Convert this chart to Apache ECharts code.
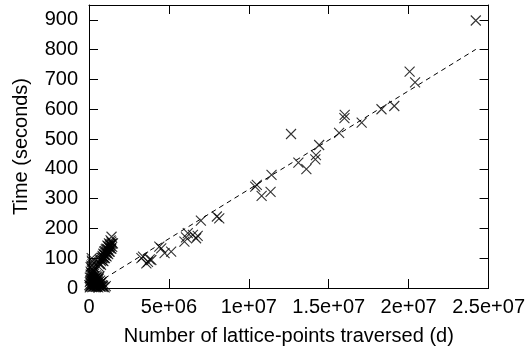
<!DOCTYPE html>
<html lang="en">
<head>
    <meta charset="UTF-8">
    <title>Time vs lattice points</title>
    <script src="https://cdn.jsdelivr.net/npm/echarts@6/dist/echarts.min.js"></script>
</head>
<body style="margin:0">
<div id="chart" style="width:528px; height:358px"></div>
<script type="text/javascript">
    // lattice points traversed (d) and time (seconds)
    var pointsX = [
        // dense cluster near origin
        0.05e6, 0.1e6, 0.15e6, 0.2e6, 0.25e6, 0.3e6, 0.35e6, 0.4e6, 0.45e6, 0.5e6,
        0.55e6, 0.6e6, 0.65e6, 0.7e6, 0.75e6, 0.8e6, 0.85e6, 0.9e6, 0.6e6, 0.7e6,
        0.2e6, 0.3e6, 0.15e6, 0.25e6, 0.1e6, 0.2e6, 0.35e6, 0.05e6, 0.12e6, 0.4e6,
        0.5e6, 0.6e6, 0.3e6, 0.18e6, 0.22e6, 0.17e6, 0.08e6, 0.02e6, 0.28e6, 0.45e6,
        0.7e6, 0.8e6, 0.55e6, 0.65e6, 0.1e6, 0.2e6, 0.3e6, 0.4e6, 0.5e6, 0.15e6,
        0.25e6, 0.35e6, 0.45e6, 0.05e6, 0.12e6, 0.22e6, 0.32e6, 0.42e6, 0.52e6, 0.62e6,
        0.2e6, 0.15e6, 0.25e6, 0.1e6, 0.3e6, 0.18e6, 0.38e6, 0.48e6, 0.58e6, 0.68e6,
        0.78e6, 0.88e6, 0.98e6, 1.05e6, 0.08e6, 0.28e6, 0.33e6, 0.43e6, 0.53e6, 0.63e6,
        // group around 1e6
        0.6e6, 0.65e6, 0.7e6, 0.75e6, 0.8e6, 0.85e6, 0.9e6, 0.95e6, 1.0e6, 1.05e6,
        1.1e6, 1.15e6, 1.2e6, 1.25e6, 1.3e6, 1.35e6, 1.4e6, 1.45e6, 1.5e6, 1.41e6,
        0.7e6, 0.8e6, 0.9e6, 1.0e6, 1.1e6, 1.2e6, 1.3e6, 1.4e6, 0.75e6, 0.85e6,
        0.95e6, 1.05e6, 1.15e6, 1.25e6, 1.35e6, 1.45e6, 0.9e6, 1.0e6, 1.1e6, 1.2e6,
        1.3e6, 1.4e6, 0.85e6, 0.95e6, 1.05e6, 1.15e6, 1.25e6, 1.35e6,
        // main trend
        3.28e6, 3.38e6, 3.59e6, 3.69e6, 3.8e6, 3.9e6, 4.4e6, 4.52e6, 4.73e6, 5.14e6,
        5.97e6, 6.07e6, 6.18e6, 6.5e6, 6.7e6, 6.8e6, 7.0e6, 8.0e6, 8.15e6,
        10.4e6, 10.5e6, 10.8e6, 11.36e6, 11.42e6, 12.64e6, 13.1e6, 13.6e6, 14.16e6, 14.2e6,
        14.4e6, 15.65e6, 15.98e6, 16.0e6, 17.06e6, 18.3e6, 19.1e6, 20.06e6, 20.4e6, 24.2e6
    ];
    var pointsY = [
        2, 5, 8, 3, 12, 6, 18, 10, 4, 15,
        22, 8, 12, 5, 18, 10, 6, 3, 30, 25,
        30, 40, 50, 60, 70, 45, 28, 20, 35, 32,
        38, 20, 55, 65, 80, 100, 25, 10, 20, 25,
        14, 20, 30, 40, 45, 15, 35, 22, 5, 25,
        40, 10, 35, 35, 15, 22, 48, 42, 28, 12,
        88, 75, 58, 55, 70, 92, 5, 8, 2, 6,
        4, 8, 2, 6, 8, 4, 30, 18, 12, 36,
        72, 80, 82, 90, 95, 100, 104, 110, 112, 118,
        122, 128, 130, 136, 140, 142, 148, 150, 150, 172,
        95, 102, 115, 124, 132, 140, 146, 156, 78, 92,
        100, 108, 116, 122, 132, 138, 90, 100, 106, 114,
        122, 132, 108, 122, 130, 142, 150, 160
    ];
    // append the main-trend times
    pointsY = pointsY.concat([
        100, 105, 83, 88, 96, 94, 139, 133, 117, 122,
        156, 170, 184, 178, 167, 175, 226, 240, 234,
        340, 346, 309, 323, 380, 517, 421, 399, 432, 446,
        480, 521, 570, 581, 555, 600, 611, 726, 690, 898
    ]);
    // least-squares fit line end points
    var fitX = [0, 2.42e7];
    var fitY = [0, 801];

    var xTickLabels = ['0', '5e+06', '1e+07', '1.5e+07', '2e+07', '2.5e+07'];
    var xStep = 5e6, xMax = 2.5e7;
    var yStep = 100, yMax = 950;

    var scatterData = [];
    for (var i = 0; i < pointsX.length; i++) {
        scatterData.push([pointsX[i], pointsY[i]]);
    }
    var fitData = [];
    for (var j = 0; j < fitX.length; j++) {
        fitData.push([fitX[j], fitY[j]]);
    }

    var font = 'Liberation Sans, Arial, sans-serif';
    var fs = 20;
    var lineCol = '#000';

    function frameAxis(extra) {
        var a = {
            type: 'value',
            axisLine: {show: true, onZero: false, lineStyle: {color: lineCol, width: 1}},
            axisTick: {show: true, inside: true, length: 9, lineStyle: {color: lineCol, width: 1}},
            splitLine: {show: false},
            axisLabel: {show: false}
        };
        for (var k in extra) a[k] = extra[k];
        return a;
    }

    var myChart = echarts.init(document.getElementById('chart'));
    myChart.setOption({
        backgroundColor: '#fff',
        animation: false,
        grid: {left: 89, right: 37, top: 5, bottom: 70},
        xAxis: [
            frameAxis({
                min: 0, max: xMax, interval: xStep, position: 'bottom',
                name: 'Number of lattice-points traversed (d)',
                nameLocation: 'middle', nameGap: 38,
                nameTextStyle: {color: '#000', fontSize: fs, fontFamily: font},
                axisLabel: {
                    show: true, margin: 9, color: '#000', fontSize: fs, fontFamily: font,
                    formatter: function (v) { return xTickLabels[Math.round(v / xStep)]; }
                }
            }),
            frameAxis({min: 0, max: xMax, interval: xStep, position: 'top'})
        ],
        yAxis: [
            frameAxis({
                min: 0, max: yMax, interval: yStep, position: 'left',
                name: 'Time (seconds)',
                nameLocation: 'middle', nameGap: 58,
                nameTextStyle: {color: '#000', fontSize: fs, fontFamily: font},
                axisLabel: {
                    show: true, margin: 11, color: '#000', fontSize: fs, fontFamily: font,
                    showMaxLabel: false
                }
            }),
            frameAxis({min: 0, max: yMax, interval: yStep, position: 'right'})
        ],
        series: [
            {
                type: 'scatter',
                data: scatterData,
                symbol: 'path://M0,0L10,10M10,0L0,10',
                symbolSize: 10,
                itemStyle: {color: 'none', borderColor: '#000', borderWidth: 1.1}
            },
            {
                type: 'line',
                data: fitData,
                symbol: 'none',
                lineStyle: {color: '#000', width: 1, type: [5, 4]}
            }
        ]
    });
</script>
</body>
</html>
